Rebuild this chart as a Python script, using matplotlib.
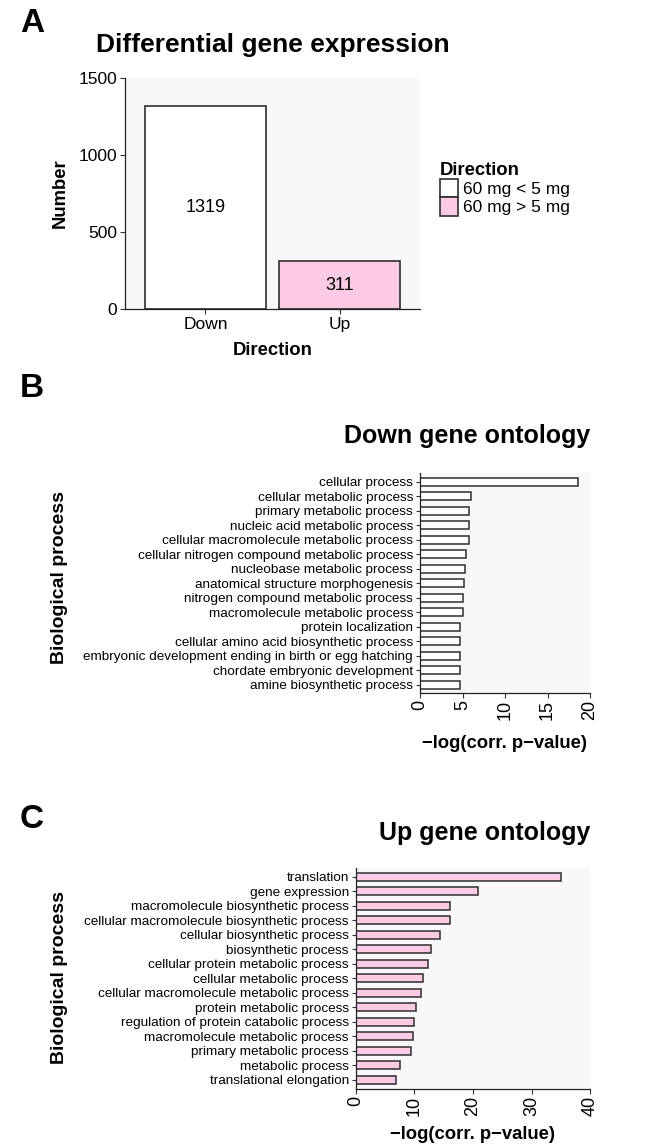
import numpy as np
import matplotlib
matplotlib.use('Agg')
import matplotlib.pyplot as plt
from matplotlib.patches import Patch

plt.rcParams['font.family'] = ['Liberation Sans', 'DejaVu Sans']

# Panel A: differential expression counts
directions = ['Down', 'Up']
counts = [1319, 311]
legend_labels = ['60 mg < 5 mg', '60 mg > 5 mg']
fill_colors = ['white', '#FBCBE4']

# Panel B: GO terms for down-regulated genes
down_terms = ['cellular process', 'cellular metabolic process', 'primary metabolic process',
              'nucleic acid metabolic process', 'cellular macromolecule metabolic process',
              'cellular nitrogen compound metabolic process', 'nucleobase metabolic process',
              'anatomical structure morphogenesis', 'nitrogen compound metabolic process',
              'macromolecule metabolic process', 'protein localization',
              'cellular amino acid biosynthetic process',
              'embryonic development ending in birth or egg hatching',
              'chordate embryonic development', 'amine biosynthetic process']
down_scores = [18.6, 6.0, 5.75, 5.75, 5.75, 5.45, 5.25, 5.15, 5.05, 5.05,
               4.75, 4.75, 4.65, 4.65, 4.65]

# Panel C: GO terms for up-regulated genes
up_terms = ['translation', 'gene expression', 'macromolecule biosynthetic process',
            'cellular macromolecule biosynthetic process', 'cellular biosynthetic process',
            'biosynthetic process', 'cellular protein metabolic process',
            'cellular metabolic process', 'cellular macromolecule metabolic process',
            'protein metabolic process', 'regulation of protein catabolic process',
            'macromolecule metabolic process', 'primary metabolic process',
            'metabolic process', 'translational elongation']
up_scores = [35.0, 20.9, 16.0, 16.0, 14.3, 12.9, 12.4, 11.4, 11.1, 10.2,
             9.9, 9.7, 9.5, 7.6, 6.9]

W, H = 650, 1147
PANEL_BG = '#F8F8F8'
EDGE = '#2E2E2E'


def fx(px):
    return px / W


def fy(py):
    return 1 - py / H


def style_axes(ax):
    ax.set_facecolor(PANEL_BG)
    for s in ['top', 'right']:
        ax.spines[s].set_visible(False)
    for s in ['left', 'bottom']:
        ax.spines[s].set_color('#222222')
        ax.spines[s].set_linewidth(0.9)
    ax.tick_params(color='#333333', width=0.8, length=3.5)


fig = plt.figure(figsize=(W / 100, H / 100), dpi=100)

# ---------------- Panel A ----------------
axA = fig.add_axes([fx(125), fy(309), (420 - 125) / W, (309 - 78) / H])
style_axes(axA)
xpos = np.arange(len(directions))
axA.bar(xpos, counts, width=0.9, color=fill_colors, edgecolor=EDGE, linewidth=1.2)
for x, c in zip(xpos, counts):
    axA.text(x, c / 2, str(c), ha='center', va='center', fontsize=13)
axA.set_xlim(-0.6, 1.6)
axA.set_ylim(0, 1500)
axA.set_yticks([0, 500, 1000, 1500])
axA.set_xticks(xpos)
axA.set_xticklabels(directions)
axA.tick_params(labelsize=12.5, pad=2)

fig.text(fx(20), fy(32), 'A', fontsize=24, fontweight='bold')
fig.text(fx(272.5), fy(52), 'Differential gene expression', fontsize=19,
         fontweight='bold', ha='center', va='baseline')
fig.text(fx(60), fy(193), 'Number', fontsize=13.3, fontweight='bold',
         rotation=90, ha='center', va='center')
fig.text(fx(272.5), fy(355), 'Direction', fontsize=13.3, fontweight='bold',
         ha='center', va='baseline')

handles = [Patch(facecolor=c, edgecolor=EDGE, linewidth=1.2) for c in fill_colors]
fig.legend(handles, legend_labels, loc='upper left', bbox_to_anchor=(fx(440), fy(162)),
           frameon=False, fontsize=12.5, title='Direction',
           title_fontproperties={'weight': 'bold', 'size': 13.3},
           borderpad=0, borderaxespad=0, handlelength=1.05, handleheight=1.25,
           labelspacing=0.0, handletextpad=0.25, alignment='left')


# ---------------- Panels B and C ----------------
def go_panel(rect, terms, scores, xmax, step, color):
    ax = fig.add_axes(rect)
    style_axes(ax)
    n = len(terms)
    ypos = np.arange(n)
    ax.barh(ypos, scores, height=0.55, color=color, edgecolor=EDGE, linewidth=1.1)
    ax.set_yticks(ypos)
    ax.set_yticklabels(terms, fontsize=9.7)
    ax.set_ylim(n - 1 + 0.6, -0.6)
    ax.set_xlim(0, xmax)
    ticks = np.arange(0, xmax + step, step)
    ax.set_xticks(ticks)
    ax.set_xticklabels([str(int(t)) for t in ticks], rotation=90, fontsize=13)
    ax.tick_params(axis='y', length=3, pad=2)
    ax.tick_params(axis='x', length=3.5, pad=1.5)
    return ax


axB = go_panel([fx(420), fy(693.3), 170 / W, (693.3 - 473) / H],
               down_terms, down_scores, 20, 5, 'white')
fig.text(fx(20), fy(397), 'B', fontsize=24, fontweight='bold')
fig.text(fx(590), fy(443), 'Down gene ontology', fontsize=18, fontweight='bold',
         ha='right', va='baseline')
fig.text(fx(505), fy(748), '\u2212log(corr. p\u2212value)', fontsize=13.3,
         fontweight='bold', ha='center', va='baseline')
fig.text(fx(59), fy(578), 'Biological process', fontsize=14, fontweight='bold',
         rotation=90, ha='center', va='center')

axC = go_panel([fx(355.7), fy(1088.7), (590.3 - 355.7) / W, (1088.7 - 868) / H],
               up_terms, up_scores, 40, 10, '#FBCBE4')
fig.text(fx(20), fy(828), 'C', fontsize=24, fontweight='bold')
fig.text(fx(590), fy(840), 'Up gene ontology', fontsize=18, fontweight='bold',
         ha='right', va='baseline')
fig.text(fx(473), fy(1139), '\u2212log(corr. p\u2212value)', fontsize=13.3,
         fontweight='bold', ha='center', va='baseline')
fig.text(fx(59), fy(978), 'Biological process', fontsize=14, fontweight='bold',
         rotation=90, ha='center', va='center')

fig.savefig('out.png', dpi=100)
